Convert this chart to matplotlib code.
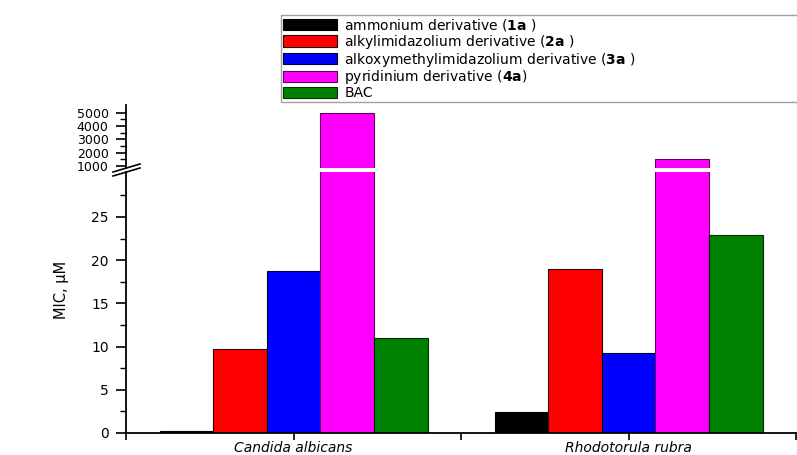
import numpy as np
import matplotlib
matplotlib.use("Agg")
import matplotlib.pyplot as plt
from matplotlib.lines import Line2D
from matplotlib.ticker import FixedLocator

plt.rcParams['font.family'] = ['DejaVu Sans']
plt.rcParams['mathtext.fontset'] = 'custom'
plt.rcParams['mathtext.bf'] = 'DejaVu Sans:bold'

# данные (MIC, мкМ)
organisms = ['Candida albicans', 'Rhodotorula rubra']
series_labels = [
    r'ammonium derivative ($\mathbf{1a}$ )',
    r'alkylimidazolium derivative ($\mathbf{2a}$ )',
    r'alkoxymethylimidazolium derivative ($\mathbf{3a}$ )',
    r'pyridinium derivative ($\mathbf{4a}$)',
    'BAC',
]
mic_1a = [0.2, 2.45]
mic_2a = [9.7, 19.0]
mic_3a = [18.7, 9.3]
mic_4a = [5000, 1550]
mic_bac = [11.0, 22.9]
colors = ['#000000', '#ff0000', '#0000ff', '#ff00ff', '#008000']
edges = ['black', '#300000', '#000030', '#600060', '#003000']

lo_major = [0, 5, 10, 15, 20, 25]
lo_minor = [2.5, 7.5, 12.5, 17.5, 22.5, 27.5]
hi_major = [1000, 2000, 3000, 4000, 5000]
hi_minor = [1500, 2500, 3500, 4500]

series = [mic_1a, mic_2a, mic_3a, mic_4a, mic_bac]

W, H = 797, 455
fig = plt.figure(figsize=(W / 100, H / 100), dpi=100)
left, right = 126 / W, 796 / W
ax_lo = fig.add_axes([left, (H - 433) / H, right - left, (433 - 172) / H])
ax_hi = fig.add_axes([left, (H - 168) / H, right - left, (168 - 105) / H], sharex=ax_lo)

x = np.arange(len(organisms))
width = 0.16
for i, (vals, c, ec, lab) in enumerate(zip(series, colors, edges, series_labels)):
    pos = x + (i - 2) * width
    for ax in (ax_lo, ax_hi):
        ax.bar(pos, vals, width, color=c, edgecolor=ec, linewidth=0.8,
               label=lab if ax is ax_lo else None)

ax_lo.set_ylim(0, 30.2)
ax_hi.set_ylim(850, 5570)
ax_lo.set_xlim(-0.5, 1.5)

for ax, fs in ((ax_lo, 10), (ax_hi, 9)):
    ax.spines['top'].set_visible(False)
    ax.spines['right'].set_visible(False)
    ax.spines['left'].set_linewidth(1.3)
    ax.tick_params(axis='y', which='major', direction='out', length=7.5, width=1.2,
                   labelsize=fs, pad=5)
    ax.tick_params(axis='y', which='minor', direction='out', length=4.5, width=1.0)

ax_hi.spines['bottom'].set_visible(False)
ax_hi.tick_params(axis='x', which='both', bottom=False, labelbottom=False)
ax_hi.yaxis.set_major_locator(FixedLocator(hi_major))
ax_hi.yaxis.set_minor_locator(FixedLocator(hi_minor))

ax_lo.spines['bottom'].set_linewidth(1.3)
ax_lo.yaxis.set_major_locator(FixedLocator(lo_major))
ax_lo.yaxis.set_minor_locator(FixedLocator(lo_minor))
ax_lo.set_xticks(x)
ax_lo.set_xticklabels(organisms, fontstyle='italic', fontsize=10)
ax_lo.xaxis.set_minor_locator(FixedLocator([-0.5, 0.5, 1.5]))
ax_lo.tick_params(axis='x', which='both', direction='out', length=5, width=1.2, pad=0.5)
ax_lo.set_ylabel('MIC, μM', fontsize=10.5)
ax_lo.yaxis.set_label_coords(-0.085, 0.55)

# знак разрыва оси
for dy in (0, 4):
    fig.add_artist(Line2D([113 / W, 140 / W], [(H - 172 - dy) / H, (H - 164 - dy) / H],
                          color='black', linewidth=1.2))

fig.legend(loc='upper left', bbox_to_anchor=(281 / W, (H - 15) / H, (800 - 281) / W, 0.0),
           mode='expand', fontsize=10, frameon=True, fancybox=False, edgecolor='#888888',
           handlelength=3.9, handleheight=0.85, handletextpad=0.5,
           labelspacing=-0.02, borderpad=0.15, borderaxespad=0)

fig.savefig('out.png', dpi=100)
